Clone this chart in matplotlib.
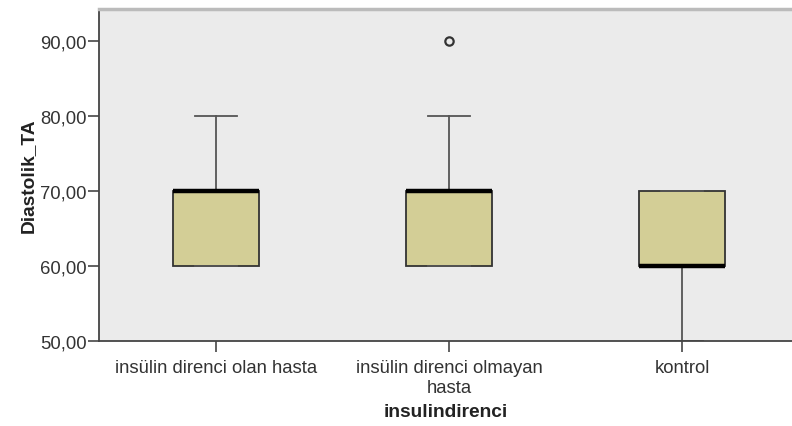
import matplotlib
matplotlib.use("Agg")
import matplotlib.pyplot as plt

plt.rcParams['font.family'] = ['Liberation Sans', 'DejaVu Sans']

# Datos (estadísticos de cada caja)
categorias = ["insülin direnci olan hasta", "insülin direnci olmayan\nhasta", "kontrol"]
q1 = [60, 60, 60]
mediana = [70, 70, 60]
q3 = [70, 70, 70]
bigote_inf = [60, 60, 50]
bigote_sup = [80, 80, 70]
atipicos = [[], [90], []]
yticks = [50, 60, 70, 80, 90]

stats = []
for i, cat in enumerate(categorias):
    stats.append(dict(label=cat, q1=q1[i], med=mediana[i], q3=q3[i],
                      whislo=bigote_inf[i], whishi=bigote_sup[i], fliers=atipicos[i]))

fig = plt.figure(figsize=(7.92, 4.27), dpi=100)
ax = fig.add_axes([99/792, 1 - 342/427, 1 - 99/792, (342 - 10)/427])
ax.set_facecolor('#EBEBEB')

ax.bxp(stats, positions=[1, 2, 3], widths=0.365, patch_artist=True,
       boxprops=dict(facecolor='#D3CE96', edgecolor='#333333', linewidth=1.3),
       medianprops=dict(color='black', linewidth=3.2, solid_capstyle='butt'),
       whiskerprops=dict(color='#555555', linewidth=1.3),
       capprops=dict(color='#555555', linewidth=1.3),
       capwidths=0.18,
       flierprops=dict(marker='o', markersize=6, markerfacecolor='none',
                       markeredgecolor='#333333', markeredgewidth=1.6))

ax.set_xlim(1 - 117/233, 3 + 110/233)
ax.set_ylim(50, 50 + 332/7.5)
ax.set_yticks(yticks)
ax.set_yticklabels([f"{v:.2f}".replace('.', ',') for v in yticks])

ax.spines['right'].set_visible(False)
ax.spines['top'].set_color('#BBBBBB')
ax.spines['top'].set_linewidth(2.5)
for s in ['left', 'bottom']:
    ax.spines[s].set_color('#444444')
    ax.spines[s].set_linewidth(1.3)

ax.tick_params(axis='both', direction='out', length=8, width=1.3, color='#555555',
               labelcolor='#333333', labelsize=13.3)
ax.tick_params(axis='y', pad=1)
ax.tick_params(axis='x', pad=5)

ax.set_ylabel("Diastolik_TA", fontsize=13.8, fontweight='bold', color='#222222', labelpad=2)
ax.set_xlabel("insulindirenci", fontsize=13.8, fontweight='bold', color='#222222', labelpad=5)

fig.savefig("out.png", dpi=100)
